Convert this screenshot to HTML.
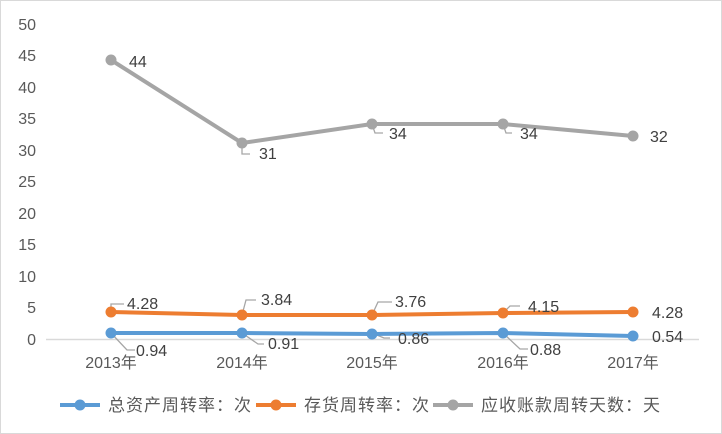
<!DOCTYPE html>
<html><head><meta charset="utf-8"><style>
body{margin:0;background:#fff}
svg{display:block;font-family:"Liberation Sans","Noto Sans CJK SC",sans-serif}
</style></head><body>
<svg width="722" height="434" viewBox="0 0 722 434">
<rect x="0.5" y="0.5" width="721" height="433" fill="#fff" stroke="#d9d9d9"/>
<g fill="#595959" font-size="16" text-anchor="end">
<text x="36" y="345">0</text><text x="36" y="313">5</text><text x="36" y="282">10</text>
<text x="36" y="250">15</text><text x="36" y="219">20</text><text x="36" y="187">25</text>
<text x="36" y="156">30</text><text x="36" y="124">35</text><text x="36" y="93">40</text>
<text x="36" y="61">45</text><text x="36" y="30">50</text>
</g>
<line x1="46" y1="339.5" x2="699" y2="339.5" stroke="#d9d9d9" stroke-width="1.5"/>
<g fill="#595959" font-size="16" text-anchor="middle">
<text x="111" y="368">2013年</text><text x="242" y="368">2014年</text><text x="372" y="368">2015年</text>
<text x="503" y="368">2016年</text><text x="633" y="368">2017年</text>
</g>
<g stroke="#a6a6a6" stroke-width="1.3" fill="none">
<polyline points="111,333 127,350 135,350"/>
<polyline points="242,333 258,344 264,344"/>
<polyline points="372,333 384,338 390,338"/>
<polyline points="503,333 520,349 528,349"/>
<polyline points="111,312 111,304 124,304"/>
<polyline points="242,315 246,300 256,300"/>
<polyline points="372,315 378,302 392,302"/>
<polyline points="503,313 510,306 520,306"/>
<polyline points="242,143 242,154 250,154"/>
<polyline points="372,124 375,133 383,133"/>
<polyline points="503,124 506,133 512,133"/>
</g>
<g fill="none" stroke-width="4" stroke-linejoin="round">
<polyline stroke="#a5a5a5" points="111,60 242,143 372,124 503,124 633,136"/>
<polyline stroke="#ed7d31" points="111,312 242,315 372,315 503,313 633,312"/>
<polyline stroke="#5b9bd5" points="111,333 242,333 372,334 503,333 633,336"/>
</g>
<g fill="#a5a5a5"><circle cx="111" cy="60" r="5.5"/><circle cx="242" cy="143" r="5.5"/><circle cx="372" cy="124" r="5.5"/><circle cx="503" cy="124" r="5.5"/><circle cx="633" cy="136" r="5.5"/></g>
<g fill="#ed7d31"><circle cx="111" cy="312" r="5.5"/><circle cx="242" cy="315" r="5.5"/><circle cx="372" cy="315" r="5.5"/><circle cx="503" cy="313" r="5.5"/><circle cx="633" cy="312" r="5.5"/></g>
<g fill="#5b9bd5"><circle cx="111" cy="333" r="5.5"/><circle cx="242" cy="333" r="5.5"/><circle cx="372" cy="334" r="5.5"/><circle cx="503" cy="333" r="5.5"/><circle cx="633" cy="336" r="5.5"/></g>
<g fill="#404040" font-size="16">
<text x="129" y="67">44</text><text x="259" y="159">31</text><text x="389" y="139">34</text><text x="520" y="139">34</text><text x="650" y="142">32</text>
<text x="127" y="309">4.28</text><text x="261" y="305">3.84</text><text x="395" y="307">3.76</text><text x="528" y="312">4.15</text><text x="652" y="318">4.28</text>
<text x="136" y="356">0.94</text><text x="268" y="349">0.91</text><text x="398" y="344">0.86</text><text x="530" y="355">0.88</text><text x="652" y="342">0.54</text>
</g>
<g stroke-width="4">
<line x1="60" y1="405" x2="100" y2="405" stroke="#5b9bd5"/><circle cx="80" cy="405" r="5.5" fill="#5b9bd5"/>
<line x1="256" y1="405" x2="296" y2="405" stroke="#ed7d31"/><circle cx="276" cy="405" r="5.5" fill="#ed7d31"/>
<line x1="433" y1="405" x2="473" y2="405" stroke="#a5a5a5"/><circle cx="453" cy="405" r="5.5" fill="#a5a5a5"/>
</g>
<g fill="#595959" font-size="17" letter-spacing="1">
<text x="108" y="411">总资产周转率：次</text>
<text x="304" y="411">存货周转率：次</text>
<text x="481" y="411">应收账款周转天数：天</text>
</g>
</svg>
</body></html>
